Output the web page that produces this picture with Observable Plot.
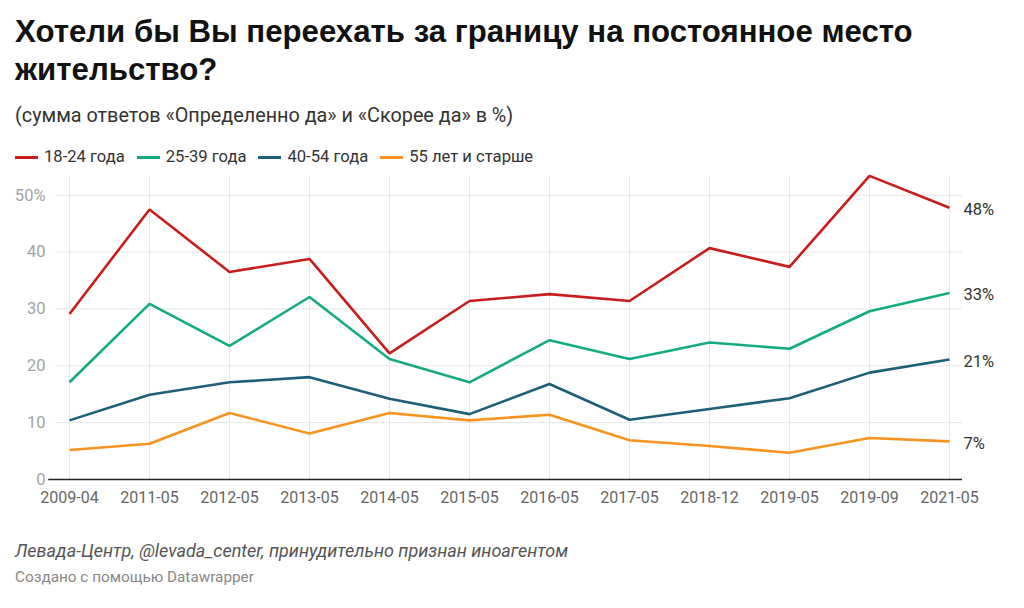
<!DOCTYPE html>
<html>
<head>
<meta charset="utf-8">
<script src="https://cdn.jsdelivr.net/npm/d3@7"></script>
<script src="https://cdn.jsdelivr.net/npm/@observablehq/plot@0.6"></script>
<style>
  body { margin: 0; background: #fff; width: 1024px; height: 608px; position: relative; overflow: hidden; font-family: Roboto, "Noto Sans", sans-serif; color: #333; }
  .abs { position: absolute; left: 15px; white-space: nowrap; }
  #title { top: 13px; font-family: "Liberation Sans", Arial, sans-serif; font-weight: bold; font-size: 31.2px; line-height: 38px; color: #111; width: 990px; white-space: normal; }
  #subtitle { top: 105px; font-size: 19.8px; line-height: 22px; color: #333; }
  #legend { top: 147px; display: flex; font-size: 16.6px; line-height: 20px; color: #333; }
  .item { display: flex; align-items: center; margin-right: 12px; }
  .sw { width: 23px; height: 3px; margin-right: 6px; }
  #chart { position: absolute; left: 0; top: 168px; }
  #source { top: 541px; font-style: italic; font-size: 18px; line-height: 20px; color: #555; }
  #credit { top: 567px; font-size: 15.3px; line-height: 20px; color: #888; }
</style>
</head>
<body>
<div id="title" class="abs">Хотели бы Вы переехать за границу на постоянное место жительство?</div>
<div id="subtitle" class="abs">(сумма ответов «Определенно да» и «Скорее да» в %)</div>
<div id="legend" class="abs"></div>
<div id="chart"></div>
<div id="source" class="abs">Левада-Центр, @levada_center, принудительно признан иноагентом</div>
<div id="credit" class="abs">Создано с помощью Datawrapper</div>
<script>
const dates = ["2009-04","2011-05","2012-05","2013-05","2014-05","2015-05","2016-05","2017-05","2018-12","2019-05","2019-09","2021-05"];
const seriesNames = ["18-24 года","25-39 года","40-54 года","55 лет и старше"];
const seriesColors = ["#c71e1d","#15ab80","#1d5f78","#f7931e"];
const age18_24 = [29.1,47.5,36.5,38.8,22.2,31.4,32.6,31.4,40.7,37.4,53.4,47.8];
const age25_39 = [17.1,30.9,23.5,32.1,21.2,17.1,24.5,21.2,24.1,23.0,29.6,32.8];
const age40_54 = [10.4,14.9,17.1,18.0,14.2,11.5,16.8,10.5,12.4,14.3,18.8,21.1];
const age55plus = [5.2,6.3,11.7,8.1,11.7,10.4,11.4,6.9,5.9,4.7,7.3,6.7];
const yTicks = [0,10,20,30,40,50];

const allSeries = [age18_24, age25_39, age40_54, age55plus];
const rows = [];
allSeries.forEach((vals, s) => vals.forEach((v, i) => rows.push({i, date: dates[i], value: v, series: seriesNames[s]})));
const last = allSeries.map((vals, s) => ({i: dates.length - 1, value: vals[vals.length - 1], series: seriesNames[s], label: Math.round(vals[vals.length - 1]) + "%"}));

// legend
const legend = document.getElementById("legend");
seriesNames.forEach((n, k) => {
  const it = document.createElement("div");
  it.className = "item";
  it.innerHTML = `<span class="sw" style="background:${seriesColors[k]}"></span><span>${n}</span>`;
  legend.appendChild(it);
});

const idx = dates.map((d, i) => i);
const FONT = "Roboto, sans-serif";
const chart = Plot.plot({
  width: 1024,
  height: 341,
  marginTop: 4,
  marginBottom: 30,
  marginLeft: 55,
  marginRight: 62,
  style: {fontFamily: FONT, fontSize: "16px", background: "transparent"},
  x: {type: "linear", domain: [-0.175, 11.1625], axis: null},
  y: {domain: [0, 54], axis: null},
  color: {domain: seriesNames, range: seriesColors},
  marks: [
    Plot.ruleX(idx, {x: d => d, y1: 0, y2: 53.3, stroke: "#e6e6e6", strokeWidth: 1}),
    Plot.ruleY(yTicks.filter(t => t > 0), {stroke: "#e6e6e6", strokeWidth: 1}),
    Plot.text(yTicks, {x: -0.175, y: d => d, text: d => d === 50 ? "50%" : String(d), textAnchor: "end", dx: -10, fill: "#a3a3a3", fontSize: 16.5, fontFamily: FONT}),
    Plot.text(idx, {x: d => d, y: 0, text: d => dates[d], dy: 18, fill: "#666", fontSize: 16, fontFamily: FONT}),
    Plot.ruleY([0], {x1: -0.26, x2: 11.1625, stroke: "#222", strokeWidth: 1.5}),
    Plot.line(rows, {x: "i", y: "value", z: "series", stroke: "series", strokeWidth: 2.6, strokeLinejoin: "miter", strokeLinecap: "butt"}),
    Plot.text(last, {x: "i", y: "value", text: "label", textAnchor: "start", dx: 14, dy: 2, fill: "#333", fontSize: 16.5, fontFamily: FONT})
  ]
});
document.getElementById("chart").appendChild(chart);
</script>
</body>
</html>
